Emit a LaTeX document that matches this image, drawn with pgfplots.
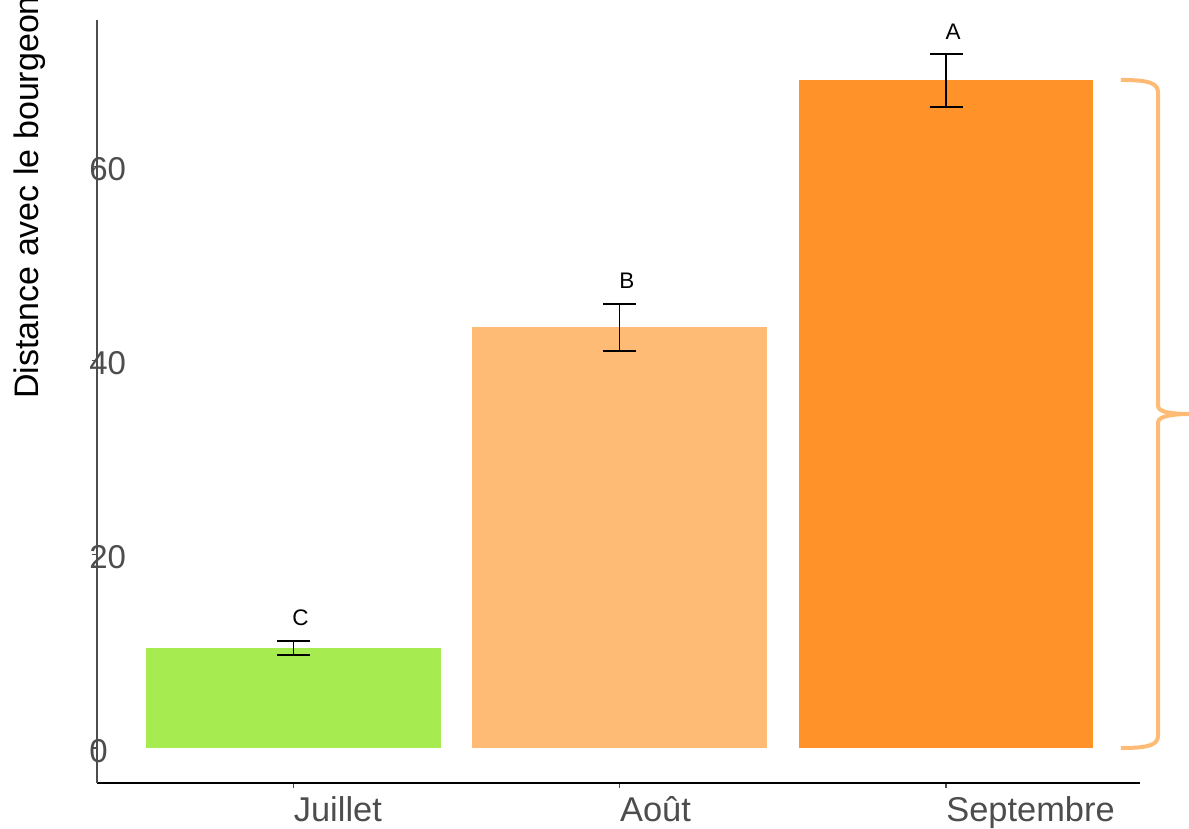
\documentclass[border=0pt]{standalone}
\usepackage{pgfplots}
\pgfplotsset{compat=1.18}
\usepackage{fontspec}
\setmainfont{Liberation Sans}
\definecolor{julColor}{HTML}{A6EB50}
\definecolor{aouColor}{HTML}{FDBB75}
\definecolor{sepColor}{HTML}{FF9228}
\definecolor{tickGray}{HTML}{4D4D4D}

\begin{document}
\begin{tikzpicture}
\path[use as bounding box] (0,0) rectangle (594.5pt,414.5pt);
\begin{axis}[
  at={(48.5pt,23pt)}, anchor=south west,
  scale only axis, width=521.5pt, height=381.5pt,
  xmin=0.3977, xmax=3.5946, ymin=-3.61, ymax=75.13,
  axis x line*=bottom, axis y line*=left,
  x axis line style={-, black, line width=0.7pt},
  y axis line style={-, tickGray, line width=0.7pt},
  xtick={1,2,3}, xticklabels={Juillet,Août,Septembre},
  ytick={0,20,40,60},
  tick align=outside, major tick length=2.5pt,
  tick style={tickGray, line width=0.7pt},
  xticklabel style={anchor=base west, inner sep=0pt, yshift=-17pt,
    font=\fontsize{17.2}{20}\selectfont, text=tickGray},
  yticklabel style={anchor=west, inner sep=0pt, xshift=-1.5pt, yshift=-1.5pt,
    font=\fontsize{16.5}{20}\selectfont, text=tickGray},
  /pgf/number format/assume math mode=true,
  clip=false,
  error bars/error bar style={black, line width=0.6pt},
  error bars/error mark options={black, rotate=90, mark size=8.25pt, line width=0.6pt},
]
% mean distance per month, with standard-error bars
\addplot[ybar, bar width=0.904, bar shift=0pt, fill=julColor, draw=none,
  error bars/.cd, y dir=both, y explicit]
  coordinates {(1,10.32) += (0,0.72) -= (0,0.72)};
\addplot[ybar, bar width=0.904, bar shift=0pt, fill=aouColor, draw=none,
  error bars/.cd, y dir=both, y explicit]
  coordinates {(2,43.45) += (0,2.37) -= (0,2.48)};
\addplot[ybar, bar width=0.904, bar shift=0pt, fill=sepColor, draw=none,
  error bars/.cd, y dir=both, y explicit]
  coordinates {(3,68.94) += (0,2.68) -= (0,2.79)};
% significance letters
\addplot[only marks, mark=none, nodes near coords, point meta=explicit symbolic,
  nodes near coords style={anchor=center, xshift=3.5pt,
    font=\fontsize{11.25}{13}\selectfont, text=black}]
  coordinates {(1,13.4) [C] (2,48.2) [B] (3,73.9) [A]};
% brace spanning the September bar, from 0 to its mean
\draw[aouColor, line width=2pt, line join=round]
  (axis cs:3.536,68.94) .. controls (axis cs:3.625,68.94) and (axis cs:3.65,68.6)
  .. (axis cs:3.65,67.6)
  -- (axis cs:3.65,35.3)
  .. controls (axis cs:3.65,34.6) and (axis cs:3.70,34.47) .. (axis cs:3.75,34.47)
  .. controls (axis cs:3.70,34.47) and (axis cs:3.65,34.3) .. (axis cs:3.65,33.6)
  -- (axis cs:3.65,1.34)
  .. controls (axis cs:3.65,0.34) and (axis cs:3.625,0) .. (axis cs:3.536,0);
\end{axis}
\node[rotate=90, anchor=base west, inner sep=0pt,
  font=\fontsize{17}{20}\selectfont] at (19.5pt,215pt) {Distance avec le bourgeon};
\end{tikzpicture}
\end{document}
